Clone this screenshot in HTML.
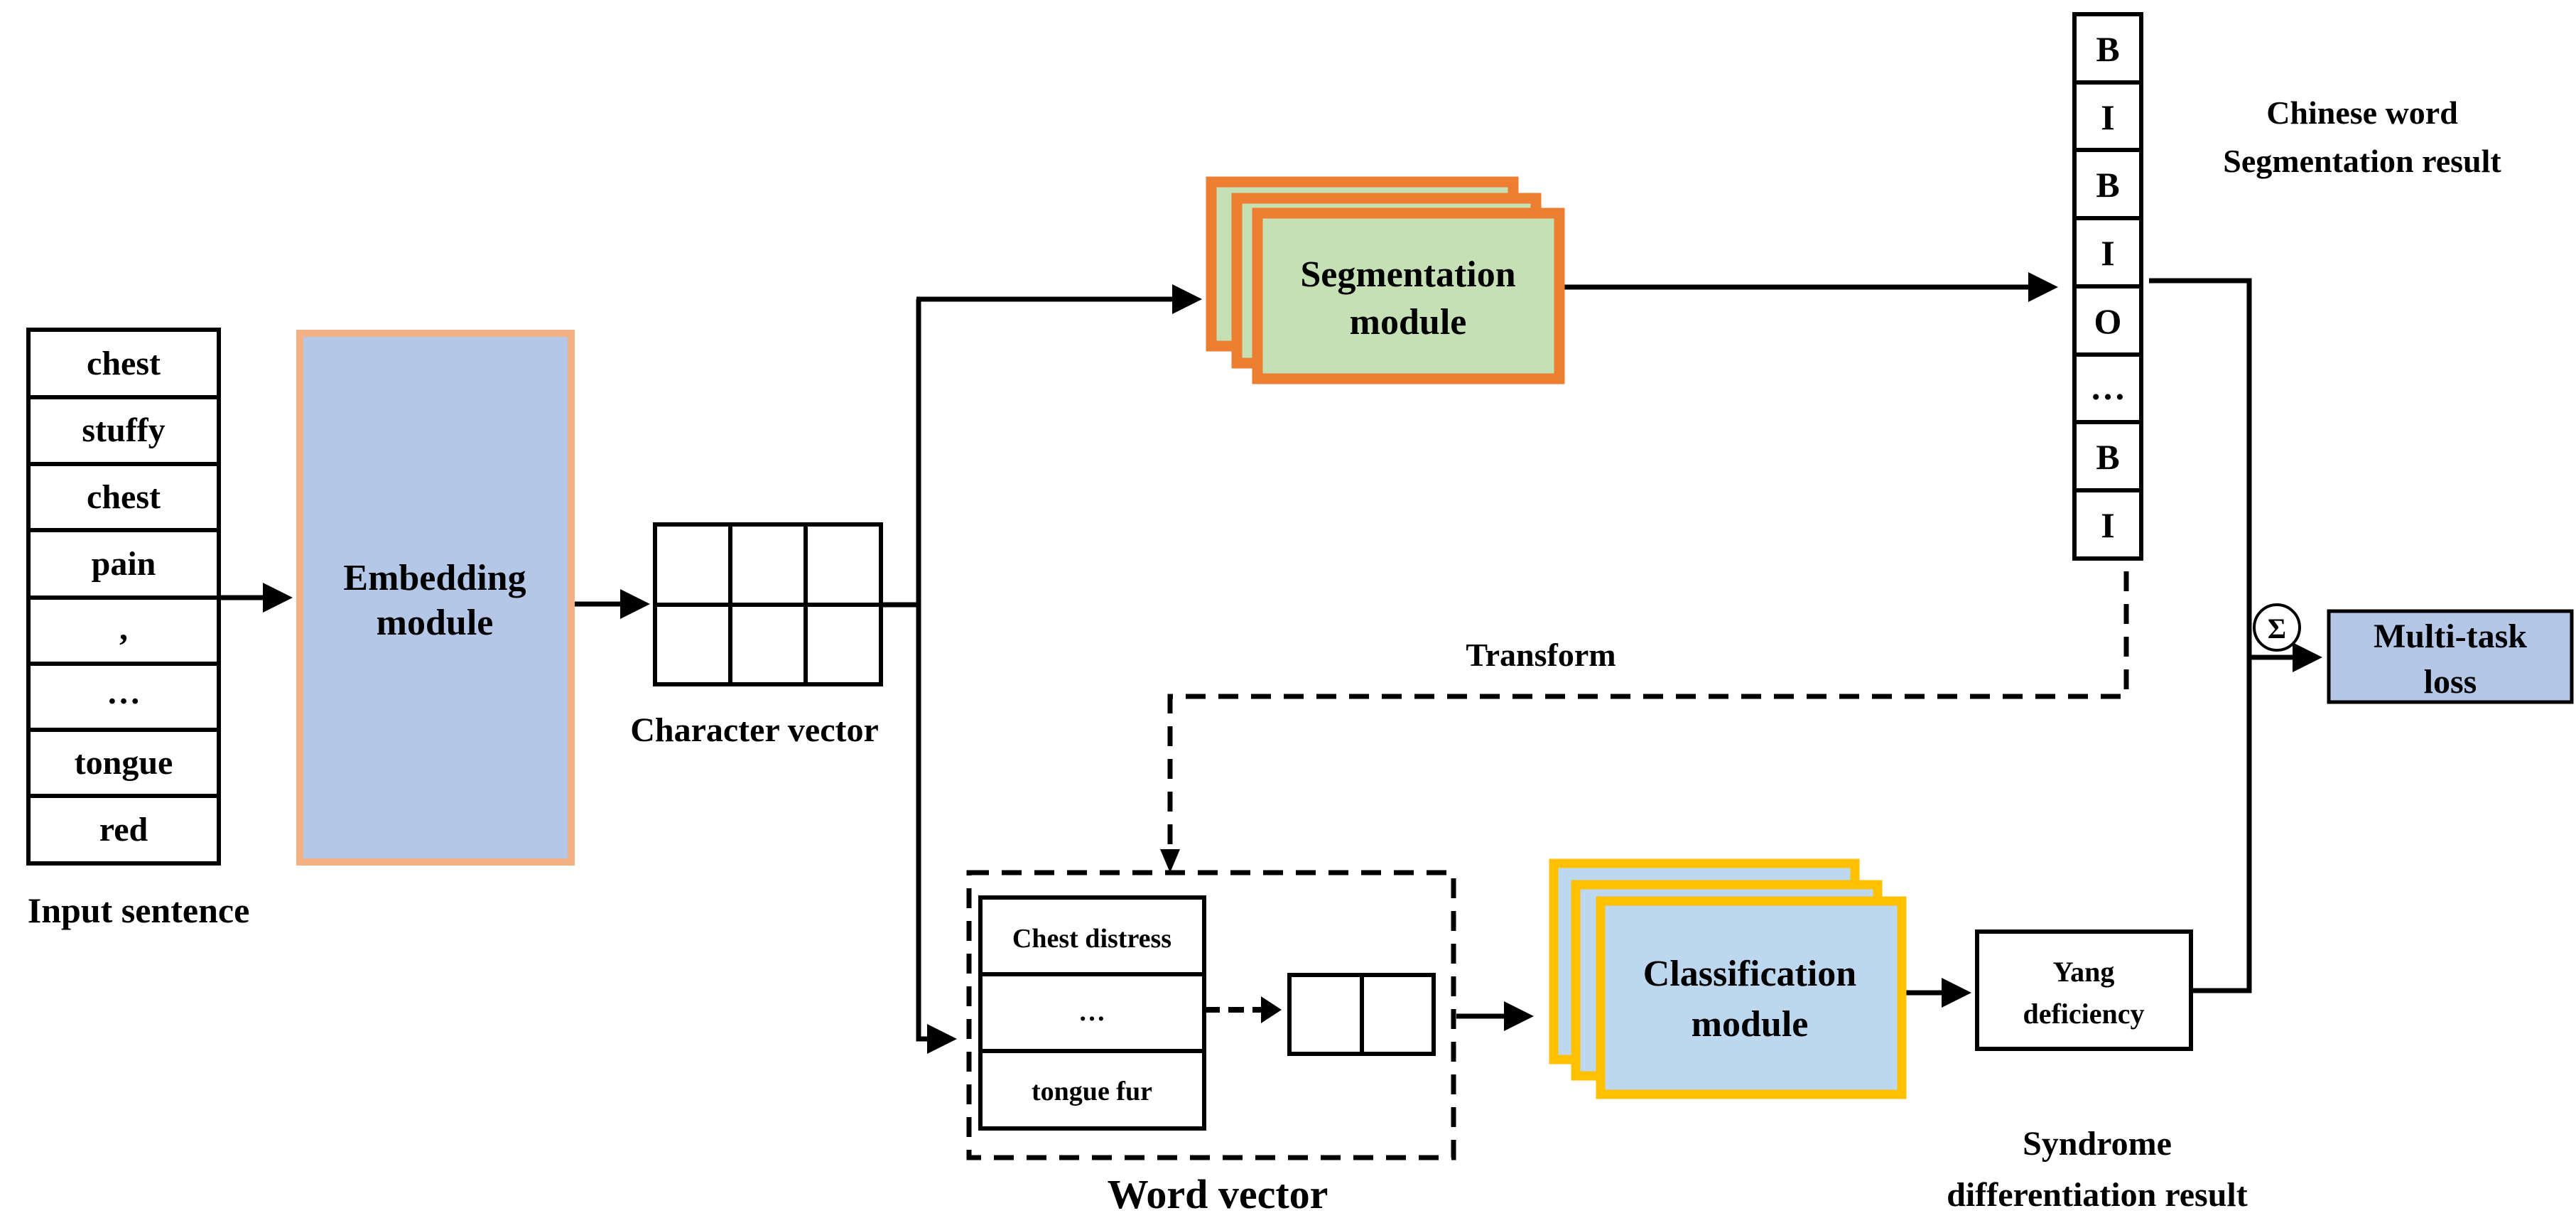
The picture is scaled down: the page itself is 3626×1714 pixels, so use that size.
<!DOCTYPE html>
<html><head><meta charset="utf-8"><style>
html,body{margin:0;padding:0;background:#fff;}
svg{display:block;}
text{font-family:"Liberation Serif",serif;font-weight:bold;fill:#000;text-anchor:middle;}
</style></head><body>
<svg width="3626" height="1714" viewBox="0 0 3626 1714" xmlns="http://www.w3.org/2000/svg">
<defs>
<marker id="ah" markerWidth="6" markerHeight="6" refX="5" refY="3" orient="auto" markerUnits="strokeWidth"><path d="M0,0 L6,3 L0,6 z" fill="#000"/></marker>
</defs>
<!-- Input list -->
<g stroke="#000" stroke-width="6" fill="#fff">
<rect x="40" y="464" width="268" height="751"/>
<line x1="40" y1="559" x2="308" y2="559"/><line x1="40" y1="653" x2="308" y2="653"/>
<line x1="40" y1="746" x2="308" y2="746"/><line x1="40" y1="841" x2="308" y2="841"/>
<line x1="40" y1="934" x2="308" y2="934"/><line x1="40" y1="1027" x2="308" y2="1027"/>
<line x1="40" y1="1120" x2="308" y2="1120"/>
</g>
<g font-size="48">
<text x="174" y="527">chest</text><text x="174" y="621">stuffy</text>
<text x="174" y="715">chest</text><text x="174" y="809">pain</text>
<text x="174" y="900">,</text><text x="174" y="990">…</text>
<text x="174" y="1089">tongue</text><text x="174" y="1183">red</text>
</g>
<text x="195" y="1298" font-size="50">Input sentence</text>
<!-- Embedding -->
<rect x="422" y="469" width="382" height="744" fill="#B4C7E7" stroke="#F4B183" stroke-width="10"/>
<text x="612" y="830" font-size="52">Embedding</text>
<text x="612" y="893" font-size="52">module</text>
<!-- arrows -->
<g stroke="#000" stroke-width="7" fill="none">
<line x1="308" y1="841" x2="405" y2="841" marker-end="url(#ah)"/>
<line x1="809" y1="850" x2="908" y2="850" marker-end="url(#ah)"/>
</g>
<!-- char vector -->
<g stroke="#000" stroke-width="6" fill="#fff">
<rect x="922" y="738" width="318" height="225"/>
<line x1="922" y1="851" x2="1240" y2="851"/>
<line x1="1028" y1="738" x2="1028" y2="963"/><line x1="1134" y1="738" x2="1134" y2="963"/>
</g>
<text x="1062" y="1043" font-size="48">Character vector</text>
<!-- branch lines -->
<g stroke="#000" stroke-width="7" fill="none">
<line x1="1240" y1="851" x2="1293" y2="851"/>
<polyline points="1293,421 1293,1462 1340,1462" marker-end="url(#ah)"/>
<line x1="1290" y1="421" x2="1685" y2="421" marker-end="url(#ah)"/>
<line x1="2202" y1="404" x2="2890" y2="404" marker-end="url(#ah)"/>
<polyline points="3025,395 3166,395 3166,1394 3085,1394"/>
<line x1="3166" y1="925" x2="3262" y2="925" marker-end="url(#ah)"/>
<line x1="2683" y1="1397" x2="2768" y2="1397" marker-end="url(#ah)"/>
<line x1="2050" y1="1430" x2="2152" y2="1430" marker-end="url(#ah)"/>
</g>
<!-- segmentation stack -->
<g stroke="#ED7D31" stroke-width="15" fill="#C5E0B4">
<rect x="1705" y="256" width="425" height="231"/>
<rect x="1741" y="279" width="421" height="232"/>
<rect x="1770" y="300" width="425" height="233"/>
</g>
<text x="1982" y="403" font-size="52">Segmentation</text>
<text x="1982" y="470" font-size="52">module</text>
<!-- BIO column -->
<g stroke="#000" stroke-width="6" fill="#fff">
<rect x="2920" y="20" width="94" height="766"/>
<line x1="2920" y1="116" x2="3014" y2="116"/><line x1="2920" y1="211" x2="3014" y2="211"/>
<line x1="2920" y1="307" x2="3014" y2="307"/><line x1="2920" y1="403" x2="3014" y2="403"/>
<line x1="2920" y1="499" x2="3014" y2="499"/><line x1="2920" y1="594" x2="3014" y2="594"/>
<line x1="2920" y1="690" x2="3014" y2="690"/>
</g>
<g font-size="50">
<text x="2967" y="86">B</text><text x="2967" y="182">I</text><text x="2967" y="277">B</text>
<text x="2967" y="373">I</text><text x="2967" y="469">O</text><text x="2967" y="562">…</text>
<text x="2967" y="660">B</text><text x="2967" y="756">I</text>
</g>
<text x="3325" y="174" font-size="46">Chinese word</text>
<text x="3325" y="242" font-size="46">Segmentation result</text>
<!-- transform dashed -->
<g stroke="#000" stroke-width="7" fill="none" stroke-dasharray="28,18">
<polyline points="2993,804 2993,980 1647,980 1647,1205"/>
</g>
<path d="M1633,1195 L1661,1195 L1647,1228 z" fill="#000"/>
<text x="2169" y="937" font-size="46">Transform</text>
<!-- sigma + multi-task -->
<circle cx="3205" cy="883" r="32" fill="#fff" stroke="#000" stroke-width="4"/>
<text x="3205" y="898" font-size="40" font-weight="normal">Σ</text>
<rect x="3278" y="860" width="342" height="128" fill="#B4C7E7" stroke="#000" stroke-width="5"/>
<text x="3449" y="911" font-size="48">Multi-task</text>
<text x="3449" y="975" font-size="48">loss</text>
<!-- word vector box -->
<rect x="1364" y="1228" width="682" height="401" fill="none" stroke="#000" stroke-width="7" stroke-dasharray="28,18"/>
<g stroke="#000" stroke-width="6" fill="#fff">
<rect x="1380" y="1263" width="315" height="325"/>
<line x1="1380" y1="1371" x2="1695" y2="1371"/><line x1="1380" y1="1479" x2="1695" y2="1479"/>
<rect x="1815" y="1372" width="203" height="111"/>
<line x1="1917" y1="1372" x2="1917" y2="1483"/>
</g>
<g font-size="38" font-weight="normal">
<text x="1537" y="1333">Chest distress</text>
<text x="1537" y="1436">…</text>
<text x="1537" y="1548">tongue fur</text>
</g>
<line x1="1695" y1="1421" x2="1775" y2="1421" stroke="#000" stroke-width="8" stroke-dasharray="22,12"/>
<path d="M1775,1402 L1804,1421 L1775,1440 z" fill="#000"/>
<text x="1714" y="1700" font-size="58">Word vector</text>
<!-- classification stack -->
<g stroke="#FFC000" stroke-width="13" fill="#BDD7EE">
<rect x="2187" y="1215" width="424" height="276"/>
<rect x="2218" y="1245" width="425" height="269"/>
<rect x="2253" y="1268" width="424" height="272"/>
</g>
<text x="2463" y="1387" font-size="52">Classification</text>
<text x="2463" y="1458" font-size="52">module</text>
<!-- Yang -->
<rect x="2783" y="1311" width="301" height="165" fill="#fff" stroke="#000" stroke-width="6"/>
<text x="2933" y="1381" font-size="40">Yang</text>
<text x="2933" y="1440" font-size="40">deficiency</text>
<text x="2952" y="1625" font-size="48">Syndrome</text>
<text x="2952" y="1697" font-size="48">differentiation result</text>
</svg>
</body></html>
